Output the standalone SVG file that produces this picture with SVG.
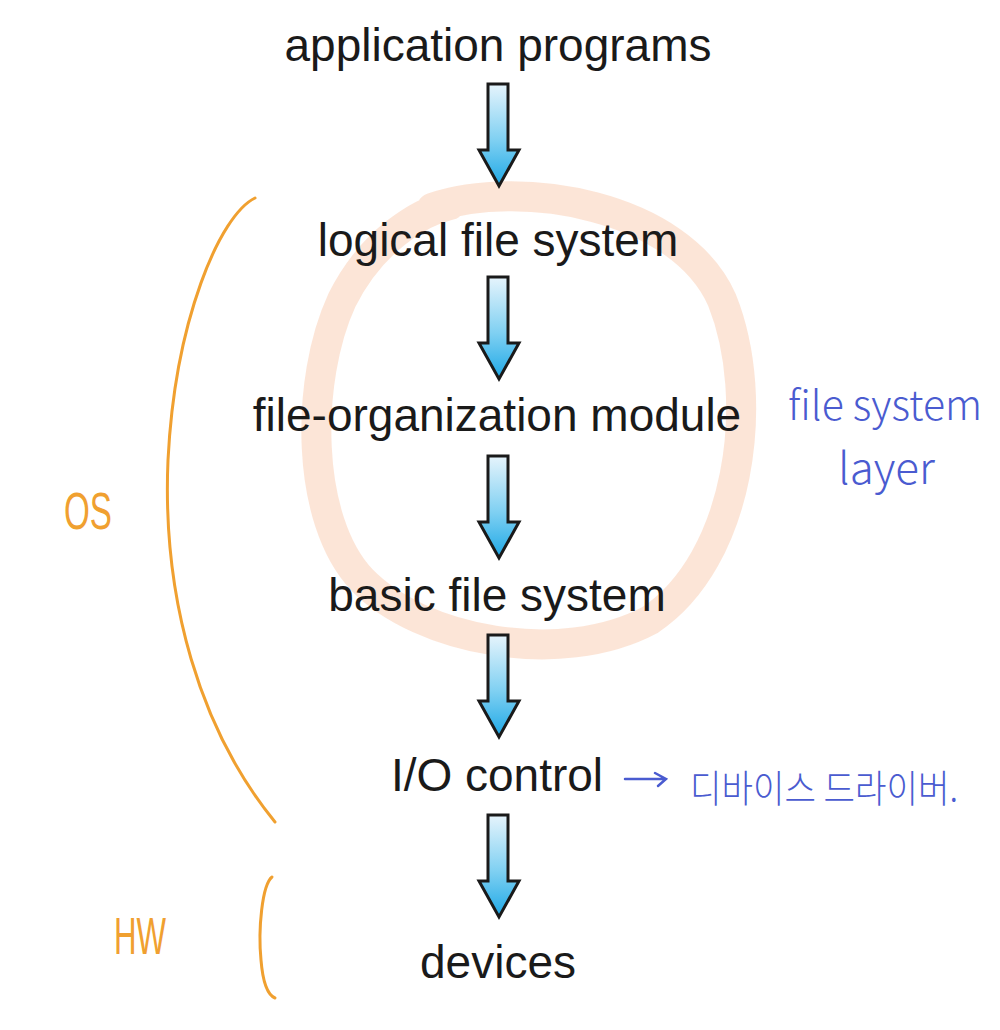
<svg xmlns="http://www.w3.org/2000/svg" width="1000" height="1030" viewBox="0 0 1000 1030">
<defs>
<linearGradient id="ag" x1="0" y1="0" x2="0" y2="1">
<stop offset="0" stop-color="#e6f4fc"/>
<stop offset="0.55" stop-color="#7fd0f2"/>
<stop offset="1" stop-color="#1ea8e6"/>
</linearGradient>
<path id="arr" d="M-11,0 H9 V66 H20 L0,102 L-20,66 H-11 Z"/>
<style>
.lbl{font-family:"Liberation Sans",Arial,sans-serif;font-size:46px;fill:#1a1a1a;text-anchor:middle}
.arrow{fill:url(#ag);stroke:#1a1a1a;stroke-width:3;stroke-linejoin:miter}
.or{fill:none;stroke:#f0a030;stroke-width:3;stroke-linecap:round}
.ortxt{font-family:"Liberation Sans",sans-serif;font-size:52px;fill:#f0a030}
.bl{font-family:"Noto Sans CJK KR","Noto Sans",sans-serif;fill:#4a5bd0;font-weight:300}
</style>
</defs>
<rect width="1000" height="1030" fill="#ffffff"/>
<g id="highlight-circle">
<path d="M432,208 C520,178 680,205 722,300 C762,400 740,560 650,620 C560,668 420,640 362,580 C305,520 305,380 342,300 C372,240 420,212 450,205" fill="none" stroke="#fbdac6" stroke-width="30" stroke-linecap="round" opacity="0.7"/>
</g>
<g id="connectors">
<use href="#arr" class="arrow" x="499" y="84"/>
<use href="#arr" class="arrow" x="499" y="277"/>
<use href="#arr" class="arrow" x="499" y="456"/>
<use href="#arr" class="arrow" x="499" y="635"/>
<use href="#arr" class="arrow" x="499" y="815"/>
</g>
<g id="n-app"><text class="lbl" x="498" y="61">application programs</text></g>
<g id="n-logical"><text class="lbl" x="498" y="256">logical file system</text></g>
<g id="n-fileorg"><text class="lbl" x="497" y="431">file-organization module</text></g>
<g id="n-basic"><text class="lbl" x="497" y="611">basic file system</text></g>
<g id="n-io"><text class="lbl" x="497" y="791">I/O control</text></g>
<g id="n-devices"><text class="lbl" x="498" y="978">devices</text></g>
<g id="annot-os">
<path class="or" d="M255,198 C220,215 175,320 168,460 C162,600 200,730 275,822"/>
<text class="ortxt" x="64" y="529" textLength="48" lengthAdjust="spacingAndGlyphs">OS</text>
</g>
<g id="annot-hw">
<path class="or" d="M272,877 C262,885 258,930 261,960 C263,985 268,995 275,998"/>
<text class="ortxt" x="114" y="954" textLength="52" lengthAdjust="spacingAndGlyphs">HW</text>
</g>
<g id="annot-layer">
<text class="bl" x="788" y="420" font-size="41">file system</text>
<text class="bl" x="838" y="484" font-size="44">layer</text>
</g>
<g id="annot-driver">
<path d="M625,779 H665 M655,773 L666,779 L658,786" fill="none" stroke="#4a5bd0" stroke-width="2.5" stroke-linecap="round"/>
<text class="bl" x="690" y="802" font-size="38" textLength="268" lengthAdjust="spacingAndGlyphs">디바이스 드라이버.</text>
</g>
</svg>
